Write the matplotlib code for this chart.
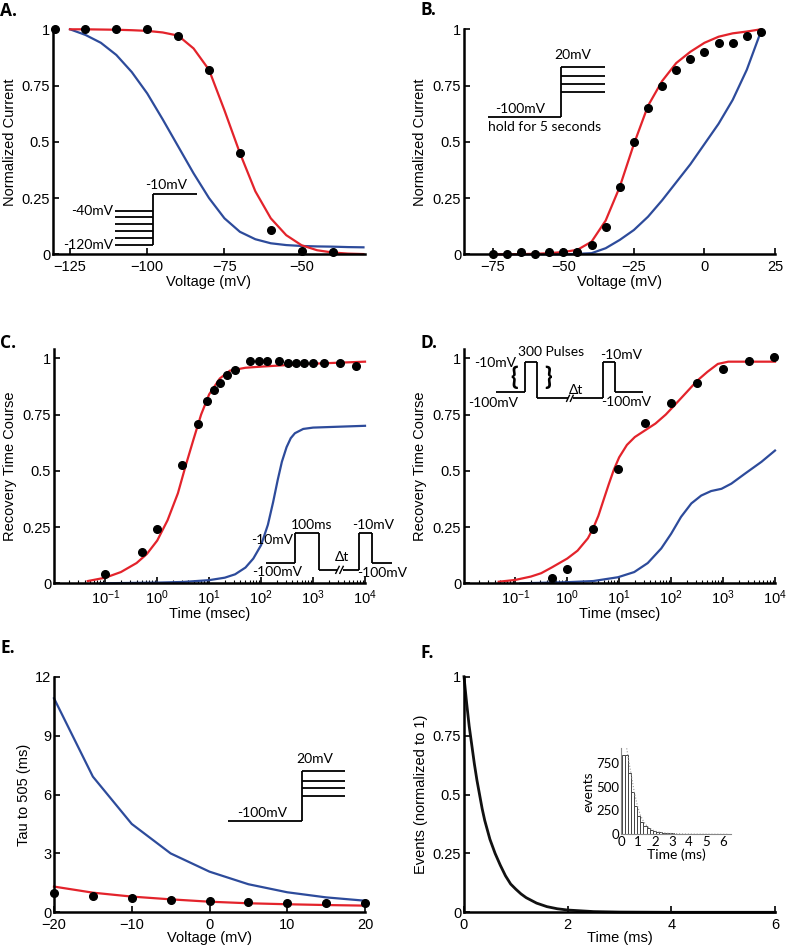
import matplotlib
matplotlib.use('Agg')
import matplotlib.pyplot as plt
from matplotlib.ticker import LogLocator, NullFormatter

plt.rcParams['font.family'] = ['Liberation Sans', 'DejaVu Sans']
plt.rcParams['mathtext.fontset'] = 'custom'
plt.rcParams['mathtext.rm'] = 'Liberation Sans'
plt.rcParams['mathtext.it'] = 'Liberation Sans:italic'
plt.rcParams['mathtext.bf'] = 'Liberation Sans:bold'

RED = '#e3232b'
BLUE = '#2d4b9b'

# ---------------- data ----------------
# Panel A : inactivation
a_volt_dots = [-130, -120, -110, -100, -90, -80, -70, -60, -50, -40]
a_curr_dots = [1.0, 1.0, 1.0, 1.0, 0.97, 0.82, 0.45, 0.11, 0.016, 0.01]
a_volt_fit = [-125, -120, -115, -110, -105, -100, -95, -90, -85, -80, -75, -70,
              -65, -60, -55, -50, -45, -40, -35, -30]
a_red_fit = [1.0, 1.0, 0.999, 0.998, 0.996, 0.993, 0.986, 0.972, 0.915, 0.82, 0.64,
             0.45, 0.28, 0.16, 0.085, 0.04, 0.018, 0.008, 0.003, 0.001]
a_blue_fit = [1.0, 0.975, 0.94, 0.886, 0.81, 0.715, 0.60, 0.48, 0.36, 0.25, 0.16,
              0.10, 0.067, 0.049, 0.041, 0.037, 0.035, 0.034, 0.032, 0.031]

# Panel B : activation
b_volt = [-75, -70, -65, -60, -55, -50, -45, -40, -35, -30, -25, -20, -15, -10,
          -5, 0, 5, 10, 15, 20]
b_curr_dots = [0.0, 0.0, 0.012, 0.0, 0.012, 0.012, 0.009, 0.04, 0.12, 0.30, 0.50,
               0.65, 0.75, 0.82, 0.87, 0.90, 0.94, 0.94, 0.97, 0.99]
b_red_fit = [0.0, 0.0, 0.001, 0.002, 0.005, 0.01, 0.02, 0.056, 0.15, 0.30, 0.49,
             0.66, 0.77, 0.85, 0.90, 0.94, 0.967, 0.982, 0.99, 1.0]
b_blue_fit = [0.0, 0.0, 0.0, 0.0, 0.0, 0.0, 0.002, 0.005, 0.027, 0.064, 0.108,
              0.167, 0.24, 0.32, 0.40, 0.49, 0.58, 0.686, 0.82, 0.99]

# Panel C : recovery (single pulse)
c_t_dots = [0.1, 0.5, 1.0, 3, 6, 9, 12.5, 16, 22, 32, 60, 93, 130, 218, 326, 476,
            660, 980, 1630, 3300, 6600]
c_rec_dots = [0.04, 0.14, 0.24, 0.527, 0.71, 0.81, 0.857, 0.89, 0.927, 0.946,
              0.987, 0.987, 0.987, 0.987, 0.978, 0.978, 0.978, 0.978, 0.978,
              0.978, 0.967]
c_t_red = [0.046, 0.1, 0.2, 0.4, 0.63, 1.0, 1.58, 2.5, 3.5, 5, 7, 10, 16, 25, 50,
           100, 316, 1000, 10000]
c_red_fit = [0.01, 0.025, 0.05, 0.09, 0.13, 0.19, 0.28, 0.40, 0.52, 0.64, 0.75,
             0.84, 0.91, 0.945, 0.958, 0.963, 0.97, 0.976, 0.985]
c_t_blue = [0.08, 1.0, 3.16, 10, 20, 31.6, 50, 70.8, 100, 135, 170, 209, 251, 309,
            372, 447, 646, 1000, 10000]
c_blue_fit = [0.0, 0.003, 0.006, 0.014, 0.025, 0.04, 0.07, 0.11, 0.17, 0.26, 0.36,
              0.46, 0.54, 0.605, 0.645, 0.667, 0.686, 0.692, 0.70]

# Panel D : recovery (300 pulses)
d_t_dots = [0.52, 1.0, 3.1, 9.6, 32, 98, 316, 980, 3160, 9600]
d_rec_dots = [0.025, 0.065, 0.24, 0.51, 0.713, 0.80, 0.89, 0.953, 0.987, 1.007]
d_t_red = [0.048, 0.1, 0.2, 0.316, 0.5, 1.0, 1.58, 2.5, 3.16, 3.98, 5.0, 6.3, 7.9,
           10, 14.1, 20, 31.6, 50, 79, 126, 200, 316, 501, 794, 1259, 10000]
d_red_fit = [0.007, 0.015, 0.03, 0.045, 0.07, 0.11, 0.145, 0.20, 0.245, 0.30, 0.37,
             0.44, 0.505, 0.56, 0.615, 0.65, 0.68, 0.71, 0.75, 0.80, 0.85, 0.90,
             0.94, 0.975, 0.985, 0.985]
d_t_blue = [0.126, 1.0, 3.16, 9.5, 19.5, 35.5, 64.6, 100, 155, 245, 380, 589, 933,
            1445, 2630, 5495, 10000]
d_blue_fit = [0.0, 0.005, 0.01, 0.027, 0.05, 0.09, 0.155, 0.22, 0.295, 0.355,
              0.39, 0.41, 0.42, 0.443, 0.487, 0.54, 0.59]

# Panel E : tau vs voltage
e_volt = [-20, -15, -10, -5, 0, 5, 10, 15, 20]
e_blue_fit = [10.9, 6.91, 4.5, 3.0, 2.07, 1.43, 1.02, 0.76, 0.59]
e_red_fit = [1.31, 1.0, 0.8, 0.66, 0.54, 0.46, 0.41, 0.37, 0.34]
e_tau_dots = [0.97, 0.83, 0.75, 0.63, 0.58, 0.53, 0.49, 0.48, 0.46]

# Panel F : event time distribution
f_time = [0, 0.05, 0.1, 0.15, 0.2, 0.25, 0.3, 0.35, 0.4, 0.5, 0.6, 0.7, 0.8, 0.9,
          1.0, 1.1, 1.2, 1.4, 1.6, 1.8, 2.0, 2.5, 3.0, 4.0, 6.0]
f_events = [1.0, 0.89, 0.79, 0.71, 0.63, 0.56, 0.50, 0.44, 0.39, 0.31, 0.25, 0.20,
            0.155, 0.12, 0.098, 0.078, 0.062, 0.039, 0.024, 0.015, 0.0096, 0.003,
            0.001, 0.0, 0.0]
f_hist_left = [0.05, 0.23, 0.41, 0.59, 0.77, 0.95, 1.13, 1.31, 1.49, 1.67, 1.85,
               2.03, 2.21, 2.39, 2.57, 2.75, 2.93, 3.11, 3.29, 3.47, 3.65, 3.83,
               4.01, 4.19, 4.37, 4.55]
f_hist_counts = [830, 830, 638, 447, 300, 195, 126, 87, 63, 45, 35, 24, 20, 16,
                 13, 11, 9, 7, 6, 5, 4, 4, 3, 3, 2, 2]
f_fit_time = [0.32, 0.41, 0.59, 0.77, 0.95, 1.13, 1.31, 1.49, 1.67, 1.85, 2.03,
              2.39, 2.75, 3.11, 3.65, 4.19, 5.0, 6.3]
f_fit_counts = [900, 800, 620, 440, 300, 200, 135, 92, 64, 45, 32, 18, 11, 7, 4,
                2, 1, 0]

W, H = 786, 947
fig = plt.figure(figsize=(W / 100, H / 100), dpi=100)


def px_axes(left, top, right, bottom):
    return fig.add_axes([left / W, 1 - bottom / H, (right - left) / W, (bottom - top) / H])


def style(ax):
    for s in ('top', 'right'):
        ax.spines[s].set_visible(False)
    for s in ('left', 'bottom'):
        ax.spines[s].set_linewidth(1.8)
    ax.tick_params(direction='in', length=4, width=1.2, labelsize=10.5, pad=2)
    ax.tick_params(axis='x', pad=4)
    ax.tick_params(which='minor', direction='in', length=2, width=0.8)


def labels(ax, xl, yl, xy, yx):
    ax.set_xlabel(xl, fontsize=10.5)
    ax.set_ylabel(yl, fontsize=10.5)
    ax.xaxis.label.set_verticalalignment('center')
    ax.yaxis.label.set_verticalalignment('center')
    ax.xaxis.set_label_coords(0.5, xy)
    ax.yaxis.set_label_coords(yx, 0.5)


def seg(ax, xs, ys, lw=1.3):
    ax.plot(xs, ys, transform=ax.transAxes, color='black', lw=lw, clip_on=False,
            solid_capstyle='butt')


def txt(ax, x, y, s, ha='center', va='center', size=10, **kw):
    ax.text(x, y, s, transform=ax.transAxes, ha=ha, va=va, fontsize=size,
            family=['Lato', 'DejaVu Sans'], **kw)


dot_kw = dict(marker='o', ls='none', color='black', ms=5.5, clip_on=False, zorder=5)
line_kw = dict(lw=1.6, clip_on=False)
yt01 = [0, 0.25, 0.5, 0.75, 1]
yt01_lab = ['0', '0.25', '0.5', '0.75', '1']

# ---------- Panel A ----------
axA = px_axes(53, 29.3, 365, 254.3)
style(axA)
axA.plot(a_volt_fit, a_blue_fit, color=BLUE, **line_kw)
axA.plot(a_volt_fit, a_red_fit, color=RED, **line_kw)
axA.plot(a_volt_dots, a_curr_dots, **dot_kw)
axA.set_xlim(-130.5, -29.5)
axA.set_ylim(0, 1)
axA.set_xticks([-125, -100, -75, -50])
axA.set_yticks(yt01)
axA.set_yticklabels(yt01_lab)
labels(axA, 'Voltage (mV)', 'Normalized Current', -0.122, -0.138)
for yy in [0.194, 0.164, 0.133, 0.104, 0.072, 0.041]:
    seg(axA, [0.199, 0.3195], [yy, yy])
seg(axA, [0.3195, 0.3195], [0.041, 0.267])
seg(axA, [0.3195, 0.4606], [0.267, 0.267])
txt(axA, 0.361, 0.308, '-10mV')
txt(axA, 0.192, 0.194, '-40mV', ha='right')
txt(axA, 0.192, 0.041, '-120mV', ha='right')

# ---------- Panel B ----------
axB = px_axes(464, 29.3, 775, 254.3)
style(axB)
axB.plot(b_volt, b_blue_fit, color=BLUE, **line_kw)
axB.plot(b_volt, b_red_fit, color=RED, **line_kw)
axB.plot(b_volt, b_curr_dots, **dot_kw)
axB.set_xlim(-85.2, 24.8)
axB.set_ylim(0, 1)
axB.set_xticks([-75, -50, -25, 0, 25])
axB.set_yticks(yt01)
axB.set_yticklabels(yt01_lab)
labels(axB, 'Voltage (mV)', 'Normalized Current', -0.122, -0.141)
seg(axB, [0.077, 0.313], [0.609, 0.609])
seg(axB, [0.313, 0.313], [0.609, 0.834])
for yy in [0.834, 0.792, 0.757, 0.723]:
    seg(axB, [0.313, 0.454], [yy, yy])
txt(axB, 0.350, 0.886, '20mV')
txt(axB, 0.180, 0.645, '-100mV')
txt(axB, 0.260, 0.564, 'hold for 5 seconds')


def log_axis(ax):
    ax.set_xscale('log')
    ax.set_xlim(0.0103, 10000)
    ax.set_ylim(0, 1.04)
    ax.set_xticks([0.1, 1, 10, 100, 1000, 10000])
    ax.xaxis.set_minor_locator(LogLocator(base=10, subs=range(2, 10), numticks=20))
    ax.xaxis.set_minor_formatter(NullFormatter())
    ax.set_yticks(yt01)
    ax.set_yticklabels(yt01_lab)
    labels(ax, 'Time (msec)', 'Recovery Time Course', -0.132, -0.141)


# ---------- Panel C ----------
axC = px_axes(54, 349.3, 365, 583.3)
style(axC)
axC.plot(c_t_blue, c_blue_fit, color=BLUE, **line_kw)
axC.plot(c_t_red, c_red_fit, color=RED, **line_kw)
axC.plot(c_t_dots, c_rec_dots, **dot_kw)
log_axis(axC)
seg(axC, [0.682, 0.775], [0.0855, 0.0855])
seg(axC, [0.775, 0.775], [0.0855, 0.214])
seg(axC, [0.775, 0.852], [0.214, 0.214])
seg(axC, [0.852, 0.852], [0.214, 0.057])
seg(axC, [0.852, 0.910], [0.057, 0.057])
seg(axC, [0.928, 0.981], [0.057, 0.057])
seg(axC, [0.905, 0.918], [0.040, 0.075], lw=1.0)
seg(axC, [0.918, 0.931], [0.040, 0.075], lw=1.0)
seg(axC, [0.981, 0.981], [0.057, 0.214])
seg(axC, [0.981, 1.023], [0.214, 0.214])
seg(axC, [1.023, 1.023], [0.214, 0.0855])
seg(axC, [1.023, 1.087], [0.0855, 0.0855])
txt(axC, 0.829, 0.249, '100ms')
txt(axC, 0.768, 0.185, '-10mV', ha='right')
txt(axC, 0.716, 0.050, '-100mV')
txt(axC, 0.925, 0.111, '\u0394t')
txt(axC, 1.027, 0.249, '-10mV')
txt(axC, 0.975, 0.045, '-100mV', ha='left')

# ---------- Panel D ----------
axD = px_axes(464, 349.3, 775, 583.3)
style(axD)
axD.plot(d_t_blue, d_blue_fit, color=BLUE, **line_kw)
axD.plot(d_t_red, d_red_fit, color=RED, **line_kw)
axD.plot(d_t_dots, d_rec_dots, **dot_kw)
log_axis(axD)
seg(axD, [0.104, 0.195], [0.819, 0.819])
seg(axD, [0.195, 0.195], [0.819, 0.947])
seg(axD, [0.195, 0.236], [0.947, 0.947])
seg(axD, [0.236, 0.236], [0.947, 0.791])
seg(axD, [0.236, 0.333], [0.791, 0.791])
seg(axD, [0.350, 0.447], [0.791, 0.791])
seg(axD, [0.329, 0.340], [0.775, 0.806], lw=1.0)
seg(axD, [0.341, 0.352], [0.775, 0.806], lw=1.0)
seg(axD, [0.447, 0.447], [0.791, 0.947])
seg(axD, [0.447, 0.485], [0.947, 0.947])
seg(axD, [0.485, 0.485], [0.947, 0.819])
seg(axD, [0.485, 0.576], [0.819, 0.819])
txt(axD, 0.279, 0.990, '300 Pulses')
txt(axD, 0.101, 0.940, '-10mV')
txt(axD, 0.093, 0.772, '-100mV')
txt(axD, 0.359, 0.825, '\u0394t')
txt(axD, 0.506, 0.976, '-10mV')
txt(axD, 0.522, 0.776, '-100mV')
txt(axD, 0.160, 0.882, '{', size=18, fontweight='bold')
txt(axD, 0.270, 0.880, '}', size=18, fontweight='bold')

# ---------- Panel E ----------
axE = px_axes(54, 676.7, 365, 912.3)
style(axE)
axE.plot(e_volt, e_blue_fit, color=BLUE, **line_kw)
axE.plot(e_volt, e_red_fit, color=RED, **line_kw)
axE.plot(e_volt, e_tau_dots, **dot_kw)
axE.set_xlim(-20, 20)
axE.set_ylim(0, 12)
axE.set_xticks([-20, -10, 0, 10, 20])
axE.set_yticks([0, 3, 6, 9, 12])
labels(axE, 'Voltage (mV)', 'Tau to 505 (ms)', -0.109, -0.096)
seg(axE, [0.560, 0.796], [0.386, 0.386])
seg(axE, [0.796, 0.796], [0.386, 0.601])
for yy in [0.601, 0.559, 0.526, 0.495]:
    seg(axE, [0.796, 0.936], [yy, yy])
txt(axE, 0.839, 0.649, '20mV')
txt(axE, 0.668, 0.420, '-100mV')

# ---------- Panel F ----------
axF = px_axes(464, 676.7, 775, 912.3)
style(axF)
axF.plot(f_time, f_events, color='#111111', lw=2.0, clip_on=False)
axF.set_xlim(0, 6)
axF.set_ylim(0, 1)
axF.set_xticks([0, 2, 4, 6])
axF.set_yticks(yt01)
axF.set_yticklabels(yt01_lab)
labels(axF, 'Time (ms)', 'Events (normalized to 1)', -0.109, -0.138)

axI = px_axes(621.3, 748.3, 731.3, 834.3)
for s in ('top', 'right'):
    axI.spines[s].set_visible(False)
for s in ('left', 'bottom'):
    axI.spines[s].set_color('#888888')
    axI.spines[s].set_linewidth(0.8)
axI.bar(f_hist_left, f_hist_counts, width=0.18, align='edge', facecolor='white',
        edgecolor='#444444', linewidth=0.7)
axI.plot(f_fit_time, f_fit_counts, color='#999999', lw=0.8, ls=':')
axI.set_xlim(0, 6.5)
axI.set_ylim(0, 900)
axI.set_xticks([0, 1, 2, 3, 4, 5, 6])
axI.set_yticks([0, 250, 500, 750])
axI.tick_params(direction='in', length=0, labelsize=9.5, pad=1.5)
for lab in axI.get_xticklabels() + axI.get_yticklabels():
    lab.set_family(['Lato', 'DejaVu Sans'])
axI.set_xlabel('Time (ms)', fontsize=10, family=['Lato', 'DejaVu Sans'], labelpad=0)
axI.set_ylabel('events', fontsize=10, family=['Lato', 'DejaVu Sans'], labelpad=1)

# ---------- panel letters ----------
letters = [('A.', 0, 16), ('B.', 420, 15), ('C.', 0, 348), ('D.', 420, 348),
           ('E.', 0, 653), ('F.', 420, 658)]
for s, x, y in letters:
    fig.text(x / W, 1 - y / H, s, fontsize=12.5, fontweight='bold',
             family=['Open Sans', 'DejaVu Sans'], ha='left', va='baseline')

fig.savefig('out.png', dpi=100)
